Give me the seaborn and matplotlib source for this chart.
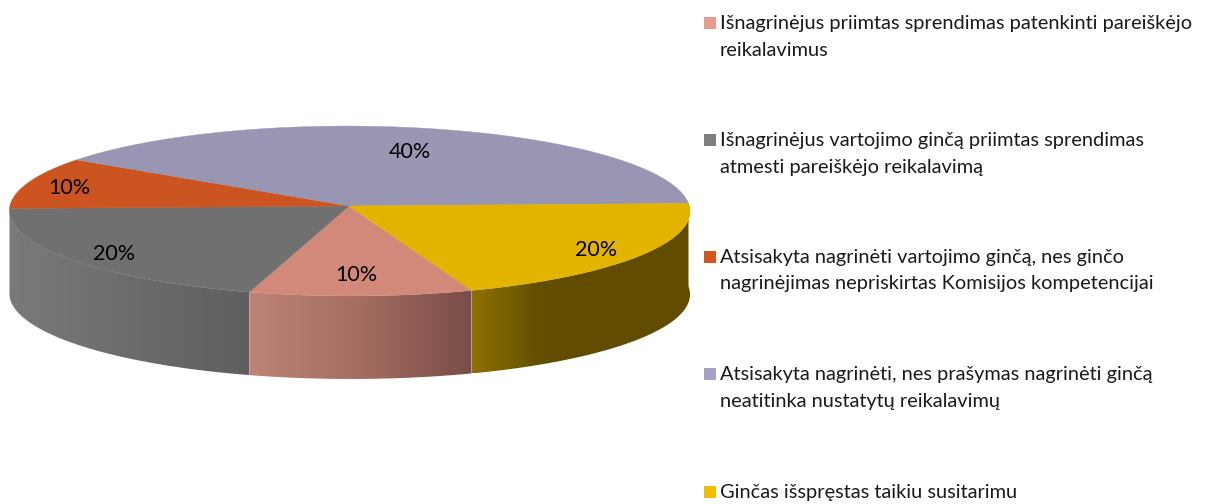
import numpy as np
import matplotlib
matplotlib.use('Agg')
import matplotlib.pyplot as plt
import seaborn as sns
from matplotlib.patches import Polygon

# share of each category, in legend order
categories = [
    ['Išnagrinėjus priimtas sprendimas patenkinti pareiškėjo', 'reikalavimus'],
    ['Išnagrinėjus vartojimo ginčą priimtas sprendimas', 'atmesti pareiškėjo reikalavimą'],
    ['Atsisakyta nagrinėti vartojimo ginčą, nes ginčo', 'nagrinėjimas nepriskirtas Komisijos kompetencijai'],
    ['Atsisakyta nagrinėti, nes prašymas nagrinėti ginčą', 'neatitinka nustatytų reikalavimų'],
    ['Ginčas išspręstas taikiu susitarimu'],
]
shares = [10, 20, 10, 40, 20]
pct_labels = ['10%', '20%', '10%', '40%', '20%']

top_colors = ['#d2897a', '#707070', '#cc5420', '#9996b4', '#e2b400']
legend_colors = ['#e69b8c', '#7f7f7f', '#d4561f', '#a5a2c4', '#f0be00']
wall_stops = [
    ['#bd8377', '#a56c60', '#794d48'],
    ['#7a7a7a', '#6c6c6c', '#5f5f5f'],
    None,
    None,
    ['#8f7000', '#7a6100', '#655000', '#614c00', '#614c00', '#614c00', '#614c00', '#614c00'],
]
pct_xy = [(356, 275), (114, 254), (69, 188), (410, 152), (596, 250)]
legend_baselines = [29, 146, 263, 380, 498]

sns.set_theme(style='white')
plt.rcParams['font.family'] = ['Lato', 'DejaVu Sans']

APEX_X, APEX_Y = 349, 206
RX, RY = 339.5, 84.7
PERSP, SHEAR, TILT = 0.059, 12, -0.0074
DEPTH = 83


def project(deg):
    # circle angle to pixel position, with a little perspective
    u, v = np.cos(np.radians(deg)), np.sin(np.radians(deg))
    d = 1 + PERSP * v
    x = RX * u / d - SHEAR * v
    y = -RY * v / d + TILT * x
    return APEX_X + x, APEX_Y + y


fig = plt.figure(figsize=(12.06, 5.04), dpi=100)
ax = fig.add_axes([0, 0, 1, 1])
ax.axis('off')

# slice angles, going clockwise
edges = -72 - 3.6 * np.cumsum([0] + shares)

for i in range(len(shares)):
    if wall_stops[i] is None:
        continue
    x, y = project(np.linspace(edges[i], edges[i + 1], 120))
    shades = sns.blend_palette(wall_stops[i], 128)
    strip = np.array(shades)[np.newaxis, :, :]
    im = ax.imshow(strip, extent=(x.min(), x.max(), y.max() + DEPTH, y.min()), aspect='auto',
                   interpolation='bilinear', zorder=1)
    wall = Polygon(np.c_[np.r_[x, x[::-1]], np.r_[y, y[::-1] + DEPTH]], transform=ax.transData)
    im.set_clip_path(wall)

for i in range(len(shares)):
    x, y = project(np.linspace(edges[i], edges[i + 1], 200))
    ax.fill(np.r_[APEX_X, x], np.r_[APEX_Y, y], color=top_colors[i], linewidth=0.3, zorder=2)
    ax.text(pct_xy[i][0], pct_xy[i][1], pct_labels[i], ha='center', va='center',
            fontsize=15.5, color='black', zorder=3)

for i, lines in enumerate(categories):
    base = legend_baselines[i]
    ax.scatter([709.5], [base - 6.5], marker='s', s=81, color=legend_colors[i], linewidth=0)
    for n, line in enumerate(lines):
        ax.text(720, base + n * 26.5, line, fontsize=14.45, color='#1a1a1a', va='baseline', ha='left')

ax.set_xlim(0, 1206)
ax.set_ylim(504, 0)

plt.savefig('out.png', dpi=100)
